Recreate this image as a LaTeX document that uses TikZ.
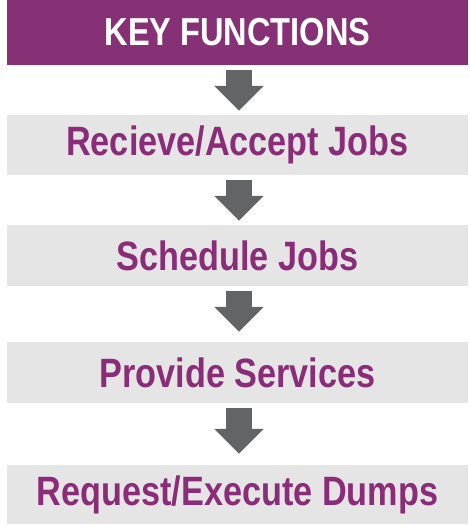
\documentclass[tikz,border=0pt]{standalone}
\usepackage{fontspec}
\setmainfont{Liberation Sans}[FakeStretch=0.835]
\usetikzlibrary{arrows.meta}
\definecolor{hdrpurple}{RGB}{134,48,118}
\definecolor{txtpurple}{RGB}{138,44,120}
\definecolor{boxgray}{RGB}{229,229,230}
\definecolor{arrgray}{RGB}{99,100,102}
\tikzset{
  hdr/.style={fill=hdrpurple, text=white, minimum width=461pt, minimum height=65pt, inner sep=0pt, font=\bfseries\fontsize{39}{43}\selectfont},
  fbox/.style={fill=boxgray, text=txtpurple, minimum width=461pt, minimum height=60pt, inner sep=0pt, font=\bfseries\fontsize{41}{45}\selectfont},
  blockarrow/.style={draw=none, line width=26pt, arrgray, -{Triangle[width=48pt,length=25pt]}, shorten <=5pt, shorten >=4pt}
}
\begin{document}
\begin{tikzpicture}[x=1pt,y=-1pt]
\useasboundingbox (0,0) rectangle (470,525);
\node[hdr] (h) at (237.5,32.5) {KEY FUNCTIONS};
\node[fbox] (b1) at (237.5,145) {Recieve/Accept Jobs};
\node[fbox, minimum height=61pt] (b2) at (237.5,255.5) {Schedule Jobs};
\node[fbox, minimum height=61pt] (b3) at (237.5,372.5) {Provide Services};
\node[fbox, minimum height=59pt] (b4) at (237.5,494.5) {Request/Execute Dumps};
\coordinate (a0) at (239,65); \coordinate (a1) at (239,115);
\coordinate (c0) at (239,175); \coordinate (c1) at (239,225);
\coordinate (d0) at (239,286); \coordinate (d1) at (239,342);
\coordinate (e0) at (239,403); \coordinate (e1) at (239,465);
\draw[blockarrow, draw=arrgray] (h.south -| a0) -- (b1.north -| a1);
\draw[blockarrow, draw=arrgray] (b1.south -| c0) -- (b2.north -| c1);
\draw[blockarrow, draw=arrgray, shorten >=10pt] (b2.south -| d0) -- (b3.north -| d1);
\draw[blockarrow, draw=arrgray, shorten >=11pt] (b3.south -| e0) -- (b4.north -| e1);
\end{tikzpicture}
\end{document}
